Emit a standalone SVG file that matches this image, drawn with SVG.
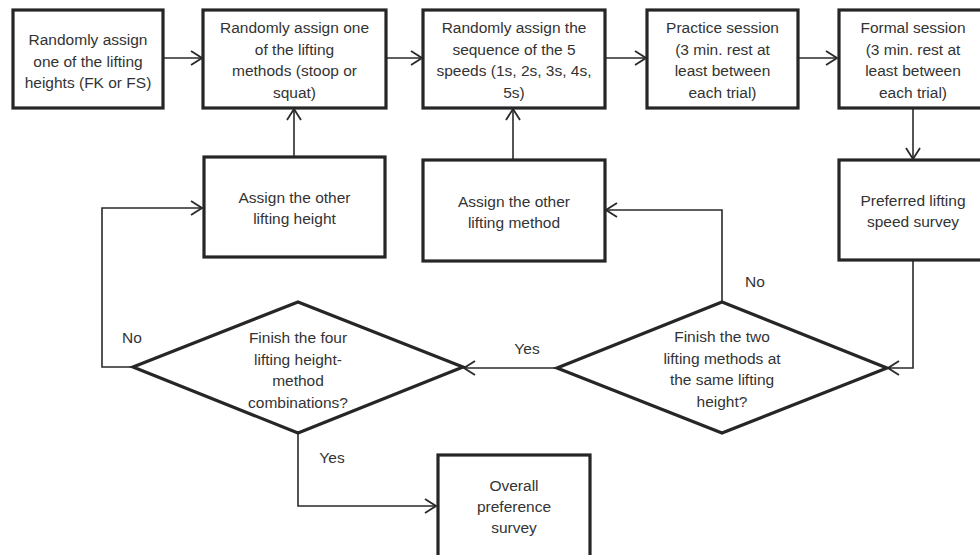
<svg xmlns="http://www.w3.org/2000/svg" width="980" height="555" viewBox="0 0 980 555">
<style>
  .box { fill: #ffffff; stroke: #262626; stroke-width: 3.2; }
  .dia { fill: #ffffff; stroke: #262626; stroke-width: 3.2; stroke-linejoin: miter; }
  .t { font-family: "Liberation Sans", Arial, sans-serif; font-size: 15.5px; fill: #333333; text-anchor: middle; }
  .c { fill: none; stroke: #2a2a2a; stroke-width: 1.6; marker-end: url(#ah); }
</style>
<defs>
  <marker id="ah" markerUnits="userSpaceOnUse" viewBox="0 0 13 16" refX="12" refY="8" markerWidth="13" markerHeight="16" orient="auto">
    <path d="M1,1 L12,8 L1,15" fill="none" stroke="#2a2a2a" stroke-width="1.8"/>
  </marker>
</defs>
<rect width="980" height="555" fill="#ffffff"/>

<g id="connectors">
  <path class="c" d="M163,58 H202"/>
  <path class="c" d="M386,58 H422"/>
  <path class="c" d="M605,58 H646"/>
  <path class="c" d="M798,58 H837"/>
  <path class="c" d="M913,108 V159"/>
  <path class="c" d="M913,260 V368 H888"/>
  <path class="c" d="M722,302 V210 H606"/>
  <path class="c" d="M513,160 V109"/>
  <path class="c" d="M557,368 H464"/>
  <path class="c" d="M133,367 H102 V208 H202"/>
  <path class="c" d="M294,156 V109"/>
  <path class="c" d="M298,433 V506 H436"/>
  <text class="t" x="755" y="287">No</text>
  <text class="t" x="527" y="354">Yes</text>
  <text class="t" x="132" y="343">No</text>
  <text class="t" x="332" y="463">Yes</text>
</g>

<g id="n1">
  <rect class="box" x="13" y="10" width="150" height="98"/>
  <text class="t" x="88" y="45">Randomly assign</text>
  <text class="t" x="88" y="66.5">one of the lifting</text>
  <text class="t" x="88" y="88">heights (FK or FS)</text>
</g>
<g id="n2">
  <rect class="box" x="203" y="10" width="183" height="98"/>
  <text class="t" x="294.5" y="33">Randomly assign one</text>
  <text class="t" x="294.5" y="54.5">of the lifting</text>
  <text class="t" x="294.5" y="76">methods (stoop or</text>
  <text class="t" x="294.5" y="97.5">squat)</text>
</g>
<g id="n3">
  <rect class="box" x="423" y="10" width="182" height="98"/>
  <text class="t" x="514" y="33">Randomly assign the</text>
  <text class="t" x="514" y="54.5">sequence of the 5</text>
  <text class="t" x="514" y="76">speeds (1s, 2s, 3s, 4s,</text>
  <text class="t" x="514" y="97.5">5s)</text>
</g>
<g id="n4">
  <rect class="box" x="647" y="10" width="151" height="98"/>
  <text class="t" x="722.5" y="33">Practice session</text>
  <text class="t" x="722.5" y="54.5">(3 min. rest at</text>
  <text class="t" x="722.5" y="76">least between</text>
  <text class="t" x="722.5" y="97.5">each trial)</text>
</g>
<g id="n5">
  <rect class="box" x="839" y="10" width="150" height="98"/>
  <text class="t" x="913" y="33">Formal session</text>
  <text class="t" x="913" y="54.5">(3 min. rest at</text>
  <text class="t" x="913" y="76">least between</text>
  <text class="t" x="913" y="97.5">each trial)</text>
</g>
<g id="n6">
  <rect class="box" x="204" y="157" width="181" height="100"/>
  <text class="t" x="294.5" y="203">Assign the other</text>
  <text class="t" x="294.5" y="224">lifting height</text>
</g>
<g id="n7">
  <rect class="box" x="423" y="160" width="182" height="101"/>
  <text class="t" x="514" y="207">Assign the other</text>
  <text class="t" x="514" y="228">lifting method</text>
</g>
<g id="n8">
  <rect class="box" x="839" y="160" width="150" height="100"/>
  <text class="t" x="913" y="206">Preferred  lifting</text>
  <text class="t" x="913" y="227">speed survey</text>
</g>
<g id="n9">
  <polygon class="dia" points="557,368 722,302 887,368 722,433"/>
  <text class="t" x="722" y="342">Finish the two</text>
  <text class="t" x="722" y="363.5">lifting methods at</text>
  <text class="t" x="722" y="385">the same lifting</text>
  <text class="t" x="722" y="406.5">height?</text>
</g>
<g id="n10">
  <polygon class="dia" points="133,367 298,302 463,367 298,433"/>
  <text class="t" x="298" y="343">Finish the four</text>
  <text class="t" x="298" y="364.5">lifting height-</text>
  <text class="t" x="298" y="386">method</text>
  <text class="t" x="298" y="407.5">combinations?</text>
</g>
<g id="n11">
  <rect class="box" x="438" y="455" width="152" height="110"/>
  <text class="t" x="514" y="491">Overall</text>
  <text class="t" x="514" y="512">preference</text>
  <text class="t" x="514" y="533">survey</text>
</g>
</svg>
